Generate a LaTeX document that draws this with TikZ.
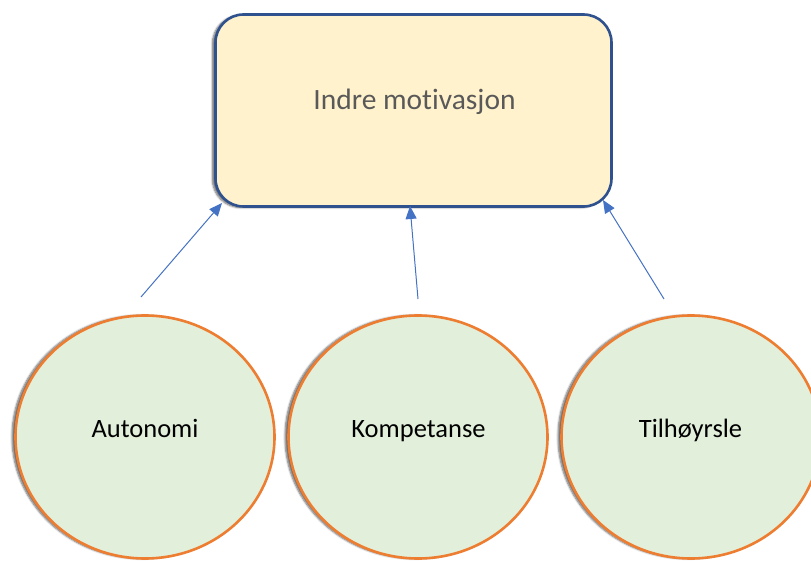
\documentclass[tikz,border=0pt]{standalone}
\usepackage{fontspec}
\setmainfont{Carlito}[RawFeature={-liga;-clig;-dlig}]
\usetikzlibrary{shadows.blur,arrows.meta,shapes.geometric}
\definecolor{boxfill}{HTML}{FFF2CC}
\definecolor{boxline}{HTML}{2F528F}
\definecolor{boxtext}{HTML}{595959}
\definecolor{circfill}{HTML}{E2EFDA}
\definecolor{circline}{HTML}{ED7D31}
\definecolor{arrowcol}{HTML}{4472C4}
\tikzset{
  mainbox/.style={draw=boxline, line width=2.6pt, fill=boxfill, rounded corners=28pt,
    minimum width=396pt, minimum height=192pt, inner sep=0pt,
    blur shadow={shadow xshift=-3pt, shadow yshift=-1pt, shadow blur steps=6, shadow opacity=60}},
  need/.style={draw=circline, line width=2.6pt, fill=circfill, ellipse,
    minimum width=259pt, minimum height=243pt, inner sep=0pt,
    blur shadow={shadow xshift=-3.5pt, shadow yshift=0pt, shadow blur steps=6, shadow opacity=60}},
  lbl/.style={anchor=base, font=\fontsize{26.5}{30}\selectfont, text=black},
  toplbl/.style={anchor=base, font=\fontsize{29.5}{34}\selectfont, text=boxtext},
  link/.style={draw=arrowcol, line width=1pt, -{Triangle[length=13pt,width=11pt]}}
}
\begin{document}
\begin{tikzpicture}[x=1pt,y=-1pt]
\useasboundingbox (0,0) rectangle (811,561);
\clip (0,0) rectangle (811,561);
\node[mainbox] (top) at (413.5,110.5) {};
\node[toplbl] (toptext) at (414.5,110) {Indre mot\kern0pt ivasjon};
\node[need] (a) at (145,437) {};
\node[need] (k) at (418,437) {};
\node[need] (t) at (691,437) {};
\node[lbl] (atext) at (145,437) {Autonomi};
\node[lbl] (ktext) at (418.5,437) {Kompetanse};
\node[lbl] (ttext) at (690.5,437) {Tilhøyrsle};
\coordinate (a0) at (141,297);
\coordinate (a1) at (222,203);
\coordinate (k0) at (418,299);
\coordinate (k1) at (410,206);
\coordinate (t0) at (664,299);
\coordinate (t1) at (603,200);
\draw[link] (a0) -- (a1);
\draw[link] (k0) -- (k1);
\draw[link] (t0) -- (t1);
\end{tikzpicture}
\end{document}
